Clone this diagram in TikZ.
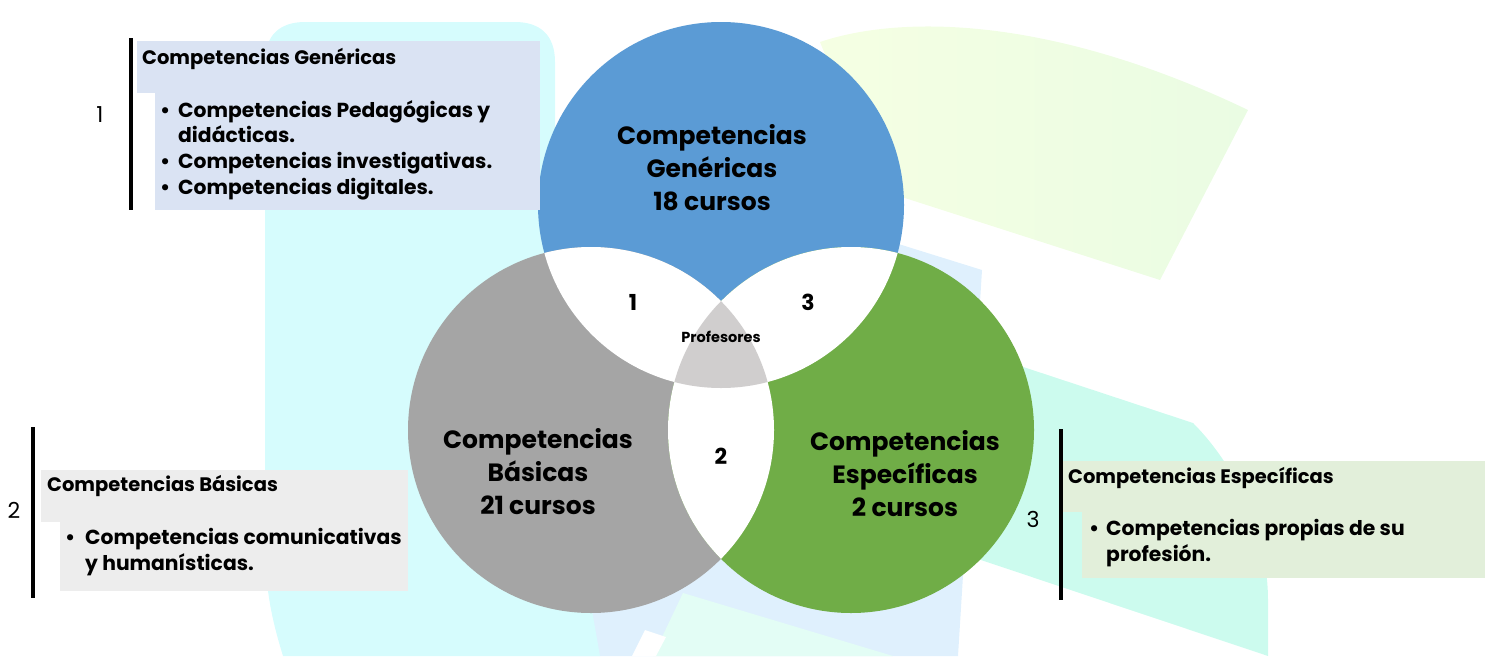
\documentclass[tikz,border=0pt]{standalone}
\usepackage{fontspec}
\setmainfont{Poppins}
\definecolor{cblue}{HTML}{5B9BD5}
\definecolor{cgray}{HTML}{A5A5A5}
\definecolor{cgreen}{HTML}{70AD47}
\definecolor{ccenter}{HTML}{D0CECE}
\definecolor{boxa}{HTML}{DAE3F3}
\definecolor{boxb}{HTML}{EDEDED}
\definecolor{boxc}{HTML}{E2EFDA}
\definecolor{bgcyan}{HTML}{D6FCFD}
\definecolor{bglblue}{HTML}{DFF0FD}
\definecolor{bgmint}{HTML}{CCFBEE}
\definecolor{bgmintl}{HTML}{E3FDF5}
\definecolor{bgyel}{HTML}{F5FFE3}
\definecolor{bgyel2}{HTML}{EAFCE3}
\tikzset{
  circtext/.style={align=center, font=\fontsize{25}{33}\selectfont\bfseries, inner sep=0pt},
  lensnum/.style={font=\fontsize{22}{24}\selectfont\bfseries, inner sep=0pt},
  headtext/.style={anchor=base west, font=\fontsize{19.5}{22}\selectfont\bfseries, inner sep=0pt},
  itemtext/.style={anchor=base west, font=\fontsize{20.3}{22}\selectfont\bfseries, inner sep=0pt},
  sidenum/.style={font=\fontsize{22}{24}\selectfont, inner sep=0pt},
  bar/.style={fill=black},
}
\begin{document}
\begin{tikzpicture}[x=1pt,y=-1pt]
\useasboundingbox (0,0) rectangle (1487,656);
% background decorative shapes
\fill[bglblue] (600,151) -- (982,270) -- (958,656) -- (560,656) -- cycle;
\fill[bgcyan] (265,62) .. controls (265,35) and (280,22) .. (305,22) -- (515,22)
  .. controls (540,22) and (555,35) .. (555,62) -- (555,400) -- (600,656) -- (283,656)
  .. controls (272,620) and (265,590) .. (265,540) -- cycle;
\fill[bgmintl] (683,593) -- (893,656) -- (653,656) -- cycle;
\fill[white] (645,630) -- (666,637) -- (656,656) -- (632,656) -- cycle;
\fill[bgmint] (990,356) -- (1193,423) .. controls (1240,470) and (1268,540) .. (1268,600)
  -- (1268,656) -- (960,553) -- cycle;
\shade[left color=bgyel, right color=bgyel2] (820,42) .. controls (900,15) and (1050,15) .. (1248,110)
  -- (1160,280) -- (880,190) -- cycle;
% Venn
\coordinate (B) at (721,205);
\coordinate (G) at (591,430);
\coordinate (V) at (851,430);
\fill[cblue] (B) circle (183pt);
\fill[cgray] (G) circle (183pt);
\fill[cgreen] (V) circle (183pt);
\begin{scope}\clip (B) circle (183pt); \fill[white] (G) circle (183pt); \fill[white] (V) circle (183pt);\end{scope}
\begin{scope}\clip (G) circle (183pt); \fill[white] (V) circle (183pt);\end{scope}
\begin{scope}\clip (B) circle (183pt); \clip (G) circle (183pt); \fill[ccenter] (V) circle (183pt);\end{scope}
\node[circtext] (tb) at (712,168) {Competencias\\Genéricas\\18 cursos};
\node[circtext] (tg) at (538,472) {Competencias\\Básicas\\21 cursos};
\node[circtext] (tv) at (905,474) {Competencias\\Específicas\\2 cursos};
\node[lensnum] (n1) at (633,302) {1};
\node[lensnum] (n3) at (808,302) {3};
\node[lensnum] (n2) at (721,456) {2};
\node[inner sep=0pt, font=\fontsize{14.5}{16}\selectfont\bfseries] (prof) at (721,337) {Profesores};
% Box 1
\fill[boxa] (137,41) rectangle (540,93);
\fill[boxa] (155,93) rectangle (540,210);
\fill[bar] (129,38) rectangle (133,210);
\node[sidenum] (s1) at (100,115) {1};
\node[headtext] (h1) at (142,64) {Competencias Genéricas};
\node[itemtext] (b1a) at (160,117) {•};
\node[itemtext] (i1a) at (178,117) {Competencias Pedagógicas y};
\node[itemtext] (i1b) at (178,142) {didácticas.};
\node[itemtext] (b1c) at (160,168) {•};
\node[itemtext] (i1c) at (178,168) {Competencias investigativas.};
\node[itemtext] (b1d) at (160,194) {•};
\node[itemtext] (i1d) at (178,194) {Competencias digitales.};
% Box 2
\fill[boxb] (41,470) rectangle (408,522);
\fill[boxb] (60,522) rectangle (408,591);
\fill[bar] (31,427) rectangle (35,598);
\node[sidenum] (s2) at (14,510) {2};
\node[headtext] (h2) at (47,491) {Competencias Básicas};
\node[itemtext] (b2a) at (65,544) {•};
\node[itemtext] (i2a) at (85,544) {Competencias comunicativas};
\node[itemtext] (i2b) at (85,570) {y humanísticas.};
% Box 3
\fill[boxc] (1063,461) rectangle (1485,512);
\fill[boxc] (1082,512) rectangle (1485,578);
\fill[bar] (1059,429) rectangle (1063,600);
\node[sidenum] (s3) at (1033,519) {3};
\node[headtext] (h3) at (1068,483) {Competencias Específicas};
\node[itemtext] (b3a) at (1089,535) {•};
\node[itemtext] (i3a) at (1106,535) {Competencias propias de su};
\node[itemtext] (i3b) at (1106,561) {profesión.};
\end{tikzpicture}
\end{document}
